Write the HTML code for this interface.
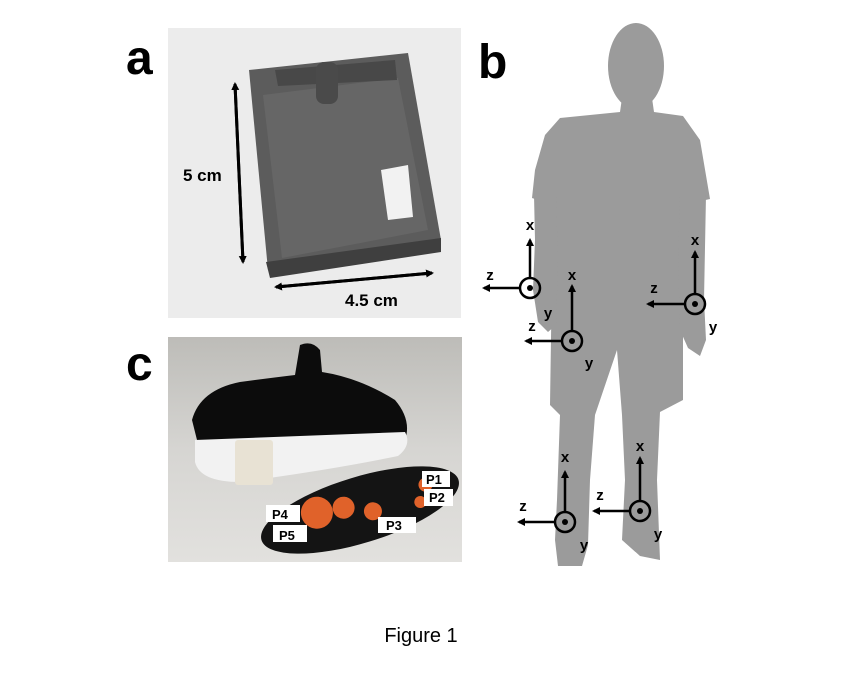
<!DOCTYPE html>
<html><head><meta charset="utf-8"><style>
html,body{margin:0;padding:0;background:#fff;width:844px;height:684px;overflow:hidden}
svg{display:block}
</style></head><body>
<svg width="844" height="684" viewBox="0 0 844 684" xmlns="http://www.w3.org/2000/svg" font-family="Liberation Sans, sans-serif">
<defs>
<marker id="ah" markerWidth="8" markerHeight="8" refX="6" refY="4" orient="auto" markerUnits="userSpaceOnUse"><path d="M0,0 L8,4 L0,8 z" fill="#000"/></marker>
<linearGradient id="pg" x1="0" y1="0" x2="0" y2="1"><stop offset="0" stop-color="#bdbcb8"/><stop offset="0.5" stop-color="#d6d5d2"/><stop offset="1" stop-color="#e2e1de"/></linearGradient>
</defs>
<!-- panel a -->
<rect x="168" y="28" width="293" height="290" fill="#ececec"/>
<polygon points="249,70 408,53 441,240 268,270" fill="#5c5c5c"/>
<polygon points="266,262 441,238 441,252 270,278" fill="#3f3f3f"/>
<polygon points="263,95 398,78 428,230 282,258" fill="#666"/>
<polygon points="275,70 395,60 397,80 278,86" fill="#484848"/>
<rect x="316" y="62" width="22" height="42" rx="8" fill="#4a4a4a"/>
<polygon points="381,170 408,165 413,217 388,220" fill="#f2f2f2"/>
<line x1="235" y1="84" x2="243" y2="262" stroke="#000" stroke-width="3" marker-end="url(#ah)"/>
<line x1="243" y1="262" x2="235" y2="84" stroke="#000" stroke-width="3" marker-end="url(#ah)"/>
<line x1="276" y1="287" x2="432" y2="273" stroke="#000" stroke-width="3" marker-end="url(#ah)"/>
<line x1="432" y1="273" x2="276" y2="287" stroke="#000" stroke-width="3" marker-end="url(#ah)"/>
<text x="183" y="181" font-size="17" font-weight="bold">5 cm</text>
<text x="345" y="306" font-size="17" font-weight="bold">4.5 cm</text>
<!-- panel c -->
<rect x="168" y="337" width="294" height="225" fill="url(#pg)"/>
<path d="M192,420 Q200,390 240,382 Q270,378 295,375 L300,345 Q312,340 320,350 L322,372 Q360,378 395,400 Q412,420 405,440 L200,452 Z" fill="#0c0c0c"/>
<path d="M195,440 L405,432 Q412,445 398,456 Q330,470 240,482 Q200,482 195,462 Z" fill="#f2f2f2"/>
<rect x="235" y="440" width="38" height="45" rx="3" fill="#e8e2d4"/>
<g transform="rotate(-17 360 510)">
<ellipse cx="360" cy="510" rx="103" ry="33" fill="#141414"/>
<circle cx="318" cy="500" r="16" fill="#e0622a"/><circle cx="345" cy="503" r="11" fill="#e0622a"/>
<circle cx="372" cy="515" r="9" fill="#e0622a"/><circle cx="430" cy="505" r="7" fill="#e0622a"/><circle cx="420" cy="520" r="6" fill="#e0622a"/>
</g>
<g font-size="13" font-weight="bold">
<rect x="422" y="471" width="28" height="16" fill="#fff"/><text x="426" y="484">P1</text>
<rect x="424" y="489" width="29" height="17" fill="#fff"/><text x="429" y="502">P2</text>
<rect x="378" y="517" width="38" height="16" fill="#fff"/><text x="386" y="530">P3</text>
<rect x="266" y="505" width="34" height="17" fill="#fff"/><text x="272" y="519">P4</text>
<rect x="273" y="525" width="34" height="17" fill="#fff"/><text x="279" y="540">P5</text>
</g>
<!-- letters -->
<text x="126" y="74" font-size="48" font-weight="bold">a</text>
<text x="478" y="78" font-size="48" font-weight="bold">b</text>
<text x="126" y="380" font-size="48" font-weight="bold">c</text>
<!-- silhouette -->
<g fill="#9b9b9b">
<ellipse cx="636" cy="66" rx="28" ry="43"/>
<path d="M622,98 L652,98 L654,112 L683,116 L700,140 L710,199 L683,205 L683,400 L660,412 L657,480 L660,560 L640,556 L622,540 L625,480 L622,415 L617,350 L595,415 L590,480 L588,545 L582,566 L558,566 L555,540 L557,500 L560,415 L550,405 L553,205 L532,198 L535,170 L545,135 L560,118 L620,112 Z"/>
<path d="M534,195 L556,195 L558,260 L556,325 L548,332 L538,322 L533,290 L535,240 Z"/>
<path d="M680,195 L706,195 L704,300 L706,340 L700,356 L688,348 L680,330 L678,260 Z"/>
</g>
<!-- axes -->
<g stroke="#000" stroke-width="2.5" fill="none">
<line x1="530" y1="278" x2="530" y2="240" marker-end="url(#ah)"/><line x1="519" y1="288" x2="484" y2="288" marker-end="url(#ah)"/>
<line x1="572" y1="331" x2="572" y2="286" marker-end="url(#ah)"/><line x1="561" y1="341" x2="526" y2="341" marker-end="url(#ah)"/>
<line x1="695" y1="294" x2="695" y2="252" marker-end="url(#ah)"/><line x1="684" y1="304" x2="648" y2="304" marker-end="url(#ah)"/>
<line x1="565" y1="512" x2="565" y2="472" marker-end="url(#ah)"/><line x1="554" y1="522" x2="519" y2="522" marker-end="url(#ah)"/>
<line x1="640" y1="501" x2="640" y2="458" marker-end="url(#ah)"/><line x1="629" y1="511" x2="594" y2="511" marker-end="url(#ah)"/>
<circle cx="530" cy="288" r="10"/><circle cx="572" cy="341" r="10"/><circle cx="695" cy="304" r="10"/><circle cx="565" cy="522" r="10"/><circle cx="640" cy="511" r="10"/>
</g>
<g fill="#000"><circle cx="530" cy="288" r="3"/><circle cx="572" cy="341" r="3"/><circle cx="695" cy="304" r="3"/><circle cx="565" cy="522" r="3"/><circle cx="640" cy="511" r="3"/></g>
<g font-size="15" font-weight="bold" text-anchor="middle">
<text x="530" y="230">x</text><text x="490" y="280">z</text><text x="548" y="318">y</text>
<text x="572" y="280">x</text><text x="532" y="331">z</text><text x="589" y="368">y</text>
<text x="695" y="245">x</text><text x="654" y="293">z</text><text x="713" y="332">y</text>
<text x="565" y="462">x</text><text x="523" y="511">z</text><text x="584" y="550">y</text>
<text x="640" y="451">x</text><text x="600" y="500">z</text><text x="658" y="539">y</text>
</g>
<text x="421" y="642" font-size="20" text-anchor="middle">Figure 1</text>
</svg>
</body></html>
